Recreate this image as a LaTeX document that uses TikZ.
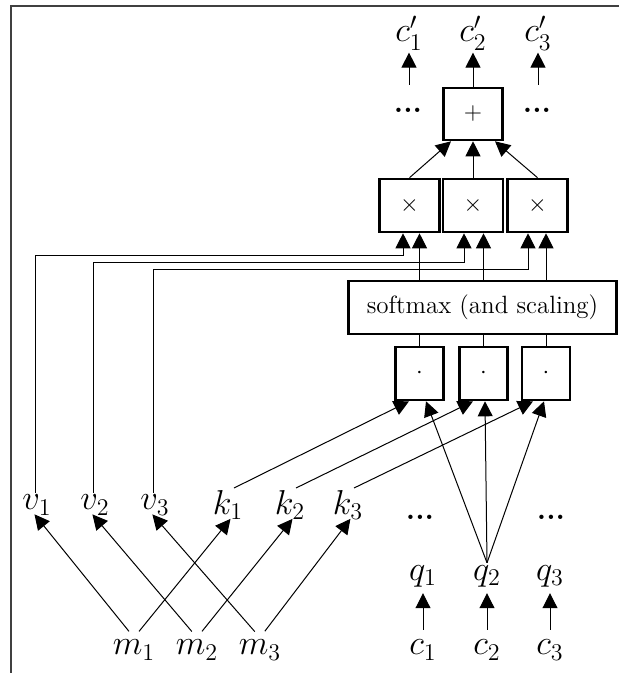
\documentclass[tikz,border=0pt]{standalone}
\usetikzlibrary{arrows.meta,calc}
\begin{document}
\begin{tikzpicture}[x=0.5pt, y=-0.5pt,
      kotak/.style={draw, line width=1.3pt, minimum width=30pt, minimum height=26.5pt, inner sep=0pt, font=\fontsize{12.5}{15}\selectfont},
      simbol/.style={inner sep=1pt, font=\fontsize{17}{20}\selectfont},
      titik/.style={inner sep=0pt, font=\fontsize{15}{18}\selectfont\bfseries},
      panah/.style={-{Triangle[length=7.5pt, width=7.5pt]}, line width=0.5pt},
      garis/.style={line width=0.5pt}]
    \useasboundingbox (0,0) rectangle (619,673);
    \draw[line width=1pt, black!75] (11,673) -- (11,6) -- (619,6);
    % keluaran
    \node[simbol] (cp1) at (409,33) {$c'_1$};
    \node[simbol] (cp2) at (473,33) {$c'_2$};
    \node[simbol] (cp3) at (538,33) {$c'_3$};
    \node[titik] (d1) at (408,110) {...};
    \node[titik] (d2) at (537,110) {...};
    \coordinate (a1) at (409,85);
    \coordinate (a3) at (538,85);
    \node[kotak, minimum width=29.5pt, minimum height=26pt] (plus) at (473,114) {$+$};
    % perkalian
    \node[kotak] (t1) at (409.5,205.5) {$\times$};
    \node[kotak] (t2) at (473,205.5) {$\times$};
    \node[kotak] (t3) at (537.5,205.5) {$\times$};
    \node[kotak, minimum width=134pt] (softmax) at (482.5,307.5) {softmax (and scaling)};
    \node[kotak, minimum width=24pt] (dt1) at (419.5,373.5) {$\cdot$};
    \node[kotak, minimum width=24pt] (dt2) at (483.5,373.5) {$\cdot$};
    \node[kotak, minimum width=24pt] (dt3) at (546,373.5) {$\cdot$};
    % masukan
    \node[simbol] (v1) at (37,505) {$v_1$};
    \node[simbol] (v2) at (95,505) {$v_2$};
    \node[simbol] (v3) at (155,505) {$v_3$};
    \node[simbol] (k1) at (228,505) {$k_1$};
    \node[simbol] (k2) at (290,505) {$k_2$};
    \node[simbol] (k3) at (348,505) {$k_3$};
    \node[titik] (d3) at (420,517) {...};
    \node[titik] (d4) at (551,517) {...};
    \node[simbol] (q1) at (423,576) {$q_1$};
    \node[simbol] (q2) at (487,576) {$q_2$};
    \node[simbol] (q3) at (550,576) {$q_3$};
    \node[simbol] (m1) at (134,650) {$m_1$};
    \node[simbol] (m2) at (197,650) {$m_2$};
    \node[simbol] (m3) at (260,650) {$m_3$};
    \node[simbol] (c1) at (423,650) {$c_1$};
    \node[simbol] (c2) at (487,650) {$c_2$};
    \node[simbol] (c3) at (550,650) {$c_3$};
    % panah atas
    \draw[panah] (a1) -- (a1 |- cp1.south);
    \draw[panah] (plus.north) -- (plus.north |- cp2.south);
    \draw[panah] (a3) -- (a3 |- cp3.south);
    \draw[panah] (t1.north) -- ([xshift=-11pt]plus.south);
    \draw[panah] (t2.north) -- (plus.south);
    \draw[panah] (t3.north) -- ([xshift=11pt]plus.south);
    % dari softmax
    \draw[panah] (dt1.north |- softmax.north) -- (dt1.north |- t1.south);
    \draw[panah] (dt2.north |- softmax.north) -- (dt2.north |- t2.south);
    \draw[panah] (dt3.north |- softmax.north) -- (dt3.north |- t3.south);
    \draw[garis] (dt1.north) -- (dt1.north |- softmax.south);
    \draw[garis] (dt2.north) -- (dt2.north |- softmax.south);
    \draw[garis] (dt3.north) -- (dt3.north |- softmax.south);
    % nilai v
    \draw[panah] ([xshift=-1pt]v1.north) -- ([xshift=-1pt]v1.north |- 0,256) -| ([xshift=-3.25pt]t1.south);
    \draw[panah] ([xshift=-1pt]v2.north) -- ([xshift=-1pt]v2.north |- 0,263) -| ([xshift=-4.5pt]t2.south);
    \draw[panah] ([xshift=-1pt]v3.north) -- ([xshift=-1pt]v3.north |- 0,270) -| ([xshift=-4.75pt]t3.south);
    % kunci k dan kueri q
    \draw[panah] ($(k1.north)+(6,0)$) -- ([xshift=-5.25pt]dt1.south);
    \draw[panah] ($(k2.north)+(6,0)$) -- ([xshift=-5.25pt]dt2.south);
    \draw[panah] ($(k3.north)+(6,0)$) -- ([xshift=-6.5pt]dt3.south);
    \draw[panah] (q2.north) -- ([xshift=3.25pt]dt1.south);
    \draw[panah] (q2.north) -- ([xshift=0.75pt]dt2.south);
    \draw[panah] (q2.north) -- ([xshift=-1pt]dt3.south);
    % dari m
    \draw[panah, shorten <=4pt, shorten >=-2pt] (m1.north) -- (v1.south);
    \draw[panah, shorten <=4pt, shorten >=-2pt] (m1.north) -- (k1.south);
    \draw[panah, shorten <=4pt, shorten >=-2pt] (m2.north) -- (v2.south);
    \draw[panah, shorten <=4pt, shorten >=-2pt] (m2.north) -- (k2.south);
    \draw[panah, shorten <=4pt, shorten >=-2pt] (m3.north) -- (v3.south);
    \draw[panah, shorten <=4pt, shorten >=-2pt] (m3.north) -- (k3.south);
    % dari c
    \draw[panah, shorten <=4pt, shorten >=2pt] (c1.north) -- (q1.south);
    \draw[panah, shorten <=4pt, shorten >=2pt] (c2.north) -- (q2.south);
    \draw[panah, shorten <=4pt, shorten >=2pt] (c3.north) -- (q3.south);
  \end{tikzpicture}
\end{document}
